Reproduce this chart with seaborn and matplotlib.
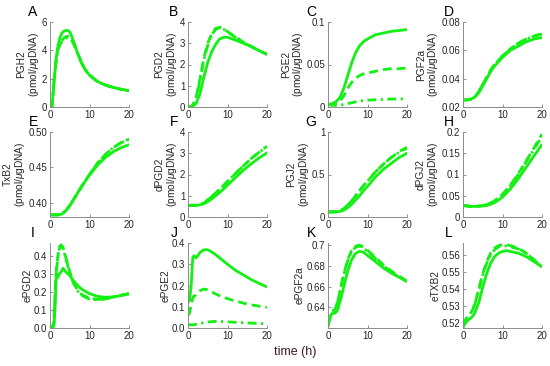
import numpy as np
import pandas as pd
import matplotlib
matplotlib.use("Agg")
import matplotlib.pyplot as plt
import seaborn as sns

# ---- data (time in h) ----
t_a = [0, 0.5, 1, 1.5, 2, 2.5, 3, 3.5, 4, 4.5, 5, 5.5, 6, 7, 8, 9, 10, 12, 14, 16, 18, 20]
pgh2_solid = [0, 0, 1.8, 3.3, 4.3, 4.9, 5.2, 5.35, 5.4, 5.4, 5.3, 5.0, 4.6, 3.8, 3.1, 2.6, 2.25, 1.8, 1.55, 1.38, 1.25, 1.15]
pgh2_dash = [0, 0, 1.7, 3.2, 4.1, 4.5, 4.7, 4.85, 4.95, 5.0, 4.95, 4.8, 4.5, 3.8, 3.1, 2.6, 2.25, 1.8, 1.55, 1.38, 1.25, 1.15]
pgh2_dd = [0, 0, 1.7, 3.1, 4.0, 4.4, 4.6, 4.75, 4.85, 4.9, 4.85, 4.7, 4.45, 3.75, 3.1, 2.6, 2.25, 1.8, 1.55, 1.38, 1.25, 1.15]

t = [0, 1, 2, 3, 4, 5, 6, 7, 8, 9, 10, 12, 14, 16, 18, 20]
pgd2_solid = [0, 0.02, 0.15, 0.6, 1.4, 2.1, 2.6, 2.95, 3.2, 3.28, 3.28, 3.15, 3.0, 2.85, 2.65, 2.48]
pgd2_dash = [0, 0.03, 0.4, 1.3, 2.3, 3.0, 3.45, 3.7, 3.75, 3.68, 3.55, 3.3, 3.05, 2.85, 2.65, 2.48]
pgd2_dd = [0, 0.03, 0.35, 1.2, 2.2, 2.9, 3.4, 3.65, 3.72, 3.66, 3.53, 3.28, 3.04, 2.84, 2.65, 2.48]

pge2_solid = [0.003, 0.004, 0.006, 0.011, 0.022, 0.037, 0.052, 0.064, 0.072, 0.077, 0.080, 0.085, 0.087, 0.089, 0.090, 0.091]
pge2_dash = [0.003, 0.003, 0.004, 0.007, 0.013, 0.022, 0.029, 0.034, 0.037, 0.039, 0.040, 0.042, 0.044, 0.045, 0.045, 0.046]
pge2_dd = [0.003, 0.002, 0.002, 0.002, 0.003, 0.004, 0.005, 0.006, 0.007, 0.0075, 0.008, 0.0085, 0.009, 0.0093, 0.0095, 0.0097]

pgf2a_solid = [0.025, 0.025, 0.0255, 0.027, 0.030, 0.035, 0.040, 0.045, 0.049, 0.052, 0.055, 0.060, 0.063, 0.066, 0.068, 0.069]
pgf2a_dash = [0.025, 0.025, 0.0255, 0.027, 0.031, 0.036, 0.041, 0.046, 0.050, 0.053, 0.056, 0.061, 0.065, 0.068, 0.070, 0.072]
pgf2a_dd = [0.025, 0.025, 0.0255, 0.027, 0.031, 0.036, 0.041, 0.046, 0.050, 0.053, 0.056, 0.061, 0.065, 0.068, 0.070, 0.0715]

txb2_solid = [0.383, 0.383, 0.383, 0.384, 0.389, 0.396, 0.405, 0.414, 0.423, 0.431, 0.439, 0.453, 0.464, 0.472, 0.478, 0.482]
txb2_dash = [0.383, 0.383, 0.383, 0.384, 0.389, 0.396, 0.405, 0.414, 0.423, 0.432, 0.440, 0.456, 0.468, 0.478, 0.485, 0.490]
txb2_dd = [0.383, 0.383, 0.383, 0.384, 0.389, 0.396, 0.405, 0.414, 0.423, 0.432, 0.440, 0.456, 0.468, 0.478, 0.485, 0.489]

dpgd2_solid = [0.55, 0.55, 0.55, 0.57, 0.62, 0.72, 0.85, 1.0, 1.15, 1.32, 1.5, 1.85, 2.2, 2.5, 2.78, 3.02]
dpgd2_dash = [0.55, 0.55, 0.55, 0.58, 0.66, 0.8, 0.96, 1.13, 1.3, 1.48, 1.67, 2.04, 2.4, 2.75, 3.05, 3.33]
dpgd2_dd = [0.55, 0.55, 0.55, 0.58, 0.66, 0.8, 0.96, 1.13, 1.3, 1.48, 1.67, 2.04, 2.4, 2.75, 3.05, 3.3]

pgj2_solid = [0.06, 0.06, 0.06, 0.065, 0.08, 0.11, 0.15, 0.2, 0.25, 0.31, 0.36, 0.47, 0.56, 0.63, 0.7, 0.75]
pgj2_dash = [0.06, 0.06, 0.062, 0.07, 0.1, 0.14, 0.19, 0.25, 0.31, 0.37, 0.42, 0.53, 0.62, 0.7, 0.77, 0.82]
pgj2_dd = [0.06, 0.06, 0.062, 0.07, 0.1, 0.14, 0.19, 0.25, 0.31, 0.37, 0.42, 0.53, 0.62, 0.7, 0.76, 0.81]

dpgj2_solid = [0.027, 0.026, 0.025, 0.025, 0.025, 0.026, 0.027, 0.03, 0.034, 0.04, 0.047, 0.066, 0.09, 0.117, 0.144, 0.17]
dpgj2_dash = [0.027, 0.026, 0.025, 0.025, 0.026, 0.027, 0.029, 0.033, 0.038, 0.045, 0.053, 0.075, 0.102, 0.132, 0.163, 0.195]
dpgj2_dd = [0.027, 0.026, 0.025, 0.025, 0.026, 0.027, 0.029, 0.033, 0.038, 0.045, 0.053, 0.074, 0.1, 0.13, 0.16, 0.19]

t_e = [0, 0.5, 1, 1.3, 1.6, 2, 2.4, 2.8, 3.3, 4, 5, 6, 7, 8, 10, 12, 14, 16, 18, 20]
epgd2_solid = [0, 0, 0.01, 0.12, 0.3, 0.28, 0.3, 0.31, 0.33, 0.31, 0.29, 0.26, 0.235, 0.215, 0.19, 0.175, 0.17, 0.172, 0.18, 0.188]
epgd2_dash = [0, 0, 0.03, 0.2, 0.32, 0.4, 0.45, 0.46, 0.445, 0.39, 0.31, 0.25, 0.21, 0.185, 0.165, 0.158, 0.162, 0.172, 0.182, 0.19]
epgd2_dd = [0, 0, 0.03, 0.19, 0.31, 0.39, 0.44, 0.455, 0.44, 0.385, 0.305, 0.245, 0.205, 0.18, 0.16, 0.155, 0.16, 0.17, 0.18, 0.19]

t_j = [0, 0.4, 0.8, 1.2, 1.5, 2, 2.5, 3, 4, 5, 6, 7, 8, 10, 12, 14, 16, 18, 20]
epge2_solid = [0.12, 0.13, 0.2, 0.33, 0.34, 0.33, 0.34, 0.355, 0.368, 0.368, 0.358, 0.345, 0.33, 0.3, 0.272, 0.25, 0.228, 0.21, 0.193]
epge2_dash = [0.06, 0.07, 0.11, 0.14, 0.15, 0.155, 0.165, 0.175, 0.183, 0.18, 0.17, 0.16, 0.152, 0.138, 0.127, 0.117, 0.109, 0.103, 0.097]
epge2_dd = [0.015, 0.015, 0.015, 0.015, 0.016, 0.017, 0.019, 0.021, 0.025, 0.028, 0.03, 0.031, 0.031, 0.029, 0.027, 0.025, 0.023, 0.021, 0.02]

t_k = [0, 0.3, 0.7, 1, 1.5, 2, 2.5, 3, 3.5, 4, 5, 6, 7, 8, 9, 10, 12, 14, 16, 18, 20]
epgf2a_solid = [0.621, 0.626, 0.632, 0.634, 0.634, 0.635, 0.638, 0.645, 0.652, 0.66, 0.675, 0.686, 0.692, 0.694, 0.693, 0.69, 0.684, 0.678, 0.673, 0.669, 0.665]
epgf2a_dash = [0.624, 0.629, 0.634, 0.636, 0.637, 0.64, 0.646, 0.655, 0.664, 0.672, 0.686, 0.695, 0.699, 0.7, 0.698, 0.695, 0.688, 0.681, 0.675, 0.67, 0.665]
epgf2a_dd = [0.624, 0.629, 0.634, 0.636, 0.637, 0.64, 0.646, 0.654, 0.663, 0.671, 0.685, 0.694, 0.698, 0.699, 0.697, 0.694, 0.687, 0.68, 0.674, 0.669, 0.665]

t_l = [0, 0.3, 0.7, 1, 1.5, 2, 2.5, 3, 4, 5, 6, 7, 8, 9, 10, 11, 12, 14, 16, 18, 20]
etxb2_solid = [0.517, 0.519, 0.52, 0.521, 0.522, 0.523, 0.524, 0.526, 0.532, 0.541, 0.549, 0.555, 0.559, 0.561, 0.562, 0.5625, 0.562, 0.561, 0.559, 0.556, 0.553]
etxb2_dash = [0.519, 0.521, 0.522, 0.523, 0.524, 0.526, 0.528, 0.531, 0.54, 0.549, 0.556, 0.561, 0.564, 0.5655, 0.566, 0.566, 0.5655, 0.564, 0.561, 0.557, 0.553]
etxb2_dd = [0.519, 0.521, 0.522, 0.523, 0.524, 0.526, 0.528, 0.531, 0.539, 0.548, 0.555, 0.56, 0.563, 0.5648, 0.5652, 0.5652, 0.5648, 0.5635, 0.561, 0.557, 0.553]

unit = "(pmol/$\\mu$gDNA)"
panels = [
    ("A", "PGH2\n" + unit, t_a, pgh2_solid, pgh2_dash, pgh2_dd, (0, 6), [0, 2, 4, 6], None),
    ("B", "PGD2\n" + unit, t, pgd2_solid, pgd2_dash, pgd2_dd, (0, 4), [0, 1, 2, 3, 4], None),
    ("C", "PGE2\n" + unit, t, pge2_solid, pge2_dash, pge2_dd, (0, 0.1), [0, 0.05, 0.1], ["0", "0.05", "0.1"]),
    ("D", "PGF2a\n" + unit, t, pgf2a_solid, pgf2a_dash, pgf2a_dd, (0.02, 0.08), [0.02, 0.04, 0.06, 0.08], None),
    ("E", "TxB2\n" + unit, t, txb2_solid, txb2_dash, txb2_dd, (0.38, 0.5), [0.4, 0.45, 0.5], None),
    ("F", "dPGD2\n" + unit, t, dpgd2_solid, dpgd2_dash, dpgd2_dd, (0, 4), [0, 1, 2, 3, 4], None),
    ("G", "PGJ2\n" + unit, t, pgj2_solid, pgj2_dash, pgj2_dd, (0, 1), [0, 0.5, 1], ["0", "0.5", "1"]),
    ("H", "dPGJ2\n" + unit, t, dpgj2_solid, dpgj2_dash, dpgj2_dd, (0, 0.2), [0, 0.05, 0.1, 0.15, 0.2], ["0", "0.05", "0.1", "0.15", "0.2"]),
    ("I", "ePGD2", t_e, epgd2_solid, epgd2_dash, epgd2_dd, (0, 0.47), [0, 0.1, 0.2, 0.3, 0.4], None),
    ("J", "ePGE2", t_j, epge2_solid, epge2_dash, epge2_dd, (0, 0.4), [0, 0.1, 0.2, 0.3, 0.4], None),
    ("K", "ePGF2a", t_k, epgf2a_solid, epgf2a_dash, epgf2a_dd, (0.62, 0.702), [0.64, 0.66, 0.68, 0.7], ["0.64", "0.66", "0.68", "0.7"]),
    ("L", "eTXB2", t_l, etxb2_solid, etxb2_dash, etxb2_dd, (0.517, 0.567), [0.52, 0.53, 0.54, 0.55, 0.56], None),
]

sns.set_theme(style="ticks")
plt.rcParams['font.family'] = ['Liberation Sans', 'DejaVu Sans']
plt.rcParams['mathtext.fontset'] = 'custom'
plt.rcParams['mathtext.it'] = 'Liberation Sans:italic'
plt.rcParams['mathtext.rm'] = 'Liberation Sans'

green = "#14f014"
dashes = {"solid": "", "dash": (3.2, 1.8), "dashdot": (3.2, 1.6, 0.8, 1.6)}

fig = plt.figure(figsize=(5.5, 3.66), dpi=100)
W, H = 550, 366
lefts = [50, 188, 328, 463]
tops = [22, 132, 243]
aw, ah = 79, 85
letter_dx = [-17, -14, -17, -14]

for i, (letter, ylabel, tt, s, d, dd, ylim, yt, ytl) in enumerate(panels):
    r, c = divmod(i, 4)
    ax = fig.add_axes([lefts[c] / W, 1 - (tops[r] + ah) / H, aw / W, ah / H])
    df = pd.DataFrame({
        "time": tt * 3,
        "value": s + d + dd,
        "run": ["solid"] * len(tt) + ["dash"] * len(tt) + ["dashdot"] * len(tt),
    })
    sns.lineplot(data=df, x="time", y="value", style="run", dashes=dashes,
                 color=green, linewidth=2.0, ax=ax, legend=False)
    ax.set_xlim(0, 20)
    ax.set_ylim(*ylim)
    ax.set_xticks([0, 10, 20])
    ax.set_yticks(yt)
    if ytl is not None:
        ax.set_yticklabels(ytl)
    ax.set_xlabel("")
    ax.set_ylabel(ylabel, fontsize=7.3, color="#262626", labelpad=0.8, linespacing=1.05)
    ax.tick_params(direction="in", length=2.5, width=0.6, labelsize=7,
                   colors="#262626", pad=2)
    ax.tick_params(axis="both", color="#808080")
    for sp in ("left", "bottom"):
        ax.spines[sp].set_color("#8c8c8c")
        ax.spines[sp].set_linewidth(0.7)
    sns.despine(ax=ax)
    fig.text((lefts[c] + letter_dx[c]) / W, 1 - (tops[r] - 10) / H, letter,
             fontsize=10, ha="center", va="center", color="black")

fig.text(295 / W, 1 - 352 / H, "time (h)", fontsize=9, color="#3a1a1a",
         ha="center", va="center")

plt.savefig("out.png", dpi=100)
